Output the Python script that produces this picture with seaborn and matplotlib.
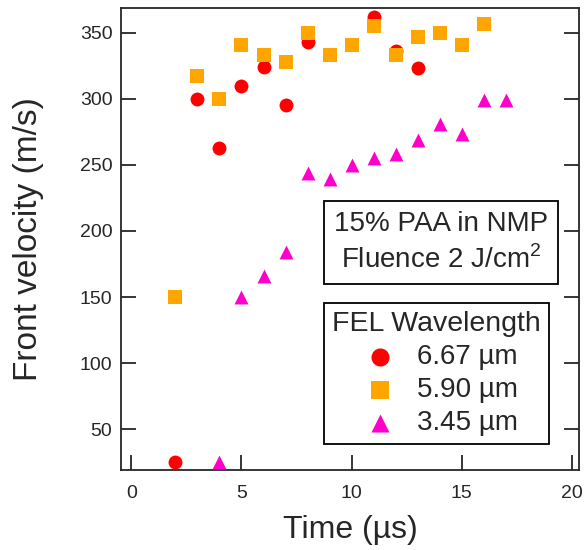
import matplotlib
matplotlib.use('Agg')
import matplotlib.pyplot as plt
import seaborn as sns

# ─── data ──────────────────────────────────────────────
t_667 = [2, 3, 4, 5, 6, 7, 8, 11, 12, 13]
v_667 = [25, 300, 263, 310, 324, 295, 343, 362, 336, 323]

t_590 = [2, 3, 4, 5, 6, 7, 8, 9, 10, 11, 12, 13, 14, 15, 16]
v_590 = [150, 317, 300, 341, 333, 328, 350, 333, 341, 355, 333, 347, 350, 341, 357]

t_345 = [4, 5, 6, 7, 8, 9, 10, 11, 12, 13, 14, 15, 16, 17]
v_345 = [25, 150, 166, 184, 244, 239, 250, 255, 258, 269, 281, 273, 299, 299]

series_labels = ["6.67 µm", "5.90 µm", "3.45 µm"]
series_colors = ["#FF0000", "#FFA500", "#FF00CC"]
series_markers = ["o", "s", "^"]

x_ticks = [0, 5, 10, 15, 20]
y_ticks = [50, 100, 150, 200, 250, 300, 350]

# ─── style ─────────────────────────────────────────────
sns.set_style("ticks")
plt.rcParams['font.family'] = ['Liberation Sans', 'DejaVu Sans']
plt.rcParams['mathtext.fontset'] = 'custom'
plt.rcParams['mathtext.rm'] = 'Liberation Sans'
plt.rcParams['axes.linewidth'] = 1.3

fig = plt.figure(figsize=(5.85, 5.5), dpi=100)
ax = fig.add_axes([0.2063, 0.1455, 0.9903 - 0.2063, 0.9849 - 0.1455])

for t, v, lab, col, mk in zip([t_667, t_590, t_345], [v_667, v_590, v_345],
                              series_labels, series_colors, series_markers):
    sns.scatterplot(x=t, y=v, ax=ax, color=col, marker=mk, s=100,
                    linewidth=0, label=lab, clip_on=False, zorder=3)

ax.set_xlim(-0.48, 20.33)
ax.set_ylim(19.1, 368.5)
ax.set_xticks(x_ticks)
ax.set_yticks(y_ticks)
ax.tick_params(direction='in', length=11, width=1.3, labelsize=14,
               right=True, top=False)
ax.tick_params(axis='x', pad=11)
ax.tick_params(axis='y', pad=6)
ax.set_xlabel("Time (µs)", fontsize=23, labelpad=9)
ax.set_ylabel("Front velocity (m/s)", fontsize=24, labelpad=26)

# annotation box
ax.text(0.698, 0.493, "15% PAA in NMP\nFluence 2 J/cm$^2$", transform=ax.transAxes,
        ha='center', va='center', fontsize=20, linespacing=1.35,
        bbox=dict(boxstyle='square,pad=0.36', fc='white', ec='black', lw=1.3))

leg = ax.legend(title="FEL Wavelength", loc='upper left',
                bbox_to_anchor=(0.443, 0.3617), fontsize=20, title_fontsize=20.5,
                fancybox=False, framealpha=1, edgecolor='black',
                handlelength=1.73, handletextpad=0.47, labelspacing=0.25,
                borderpad=0.3, borderaxespad=0, markerscale=1.3,
                alignment='center')
leg.get_frame().set_linewidth(1.3)

fig.savefig("out.png", dpi=100)
